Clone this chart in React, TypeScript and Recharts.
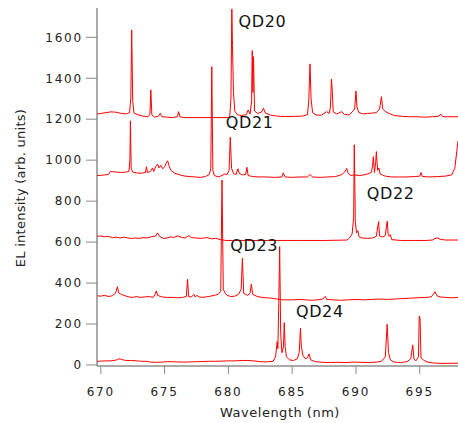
import React from 'react';
import { LineChart, Line, XAxis, YAxis, ReferenceDot } from 'recharts';

// wavelength (nm), intensity (arb. units) pairs, offsets included
const QD20: [number, number][] = [
  [669.7, 1225], [670.0, 1228], [670.4, 1232], [670.8, 1236], [671.2, 1234], [671.6, 1228], [672.0, 1226],
  [672.25, 1232], [672.35, 1300], [672.42, 1636], [672.5, 1290], [672.6, 1230], [672.9, 1222], [673.3, 1215],
  [673.7, 1212], [673.85, 1225], [673.92, 1343], [674.0, 1222], [674.2, 1210], [674.5, 1214], [674.65, 1228],
  [674.8, 1212], [675.2, 1210], [675.6, 1208], [676.0, 1212], [676.1, 1237], [676.2, 1212], [676.5, 1208],
  [680.1, 1208], [680.2, 1300], [680.27, 1738], [680.32, 1560], [680.4, 1330], [680.5, 1240], [680.7, 1222],
  [681.0, 1218], [681.4, 1222], [681.55, 1245], [681.7, 1225], [681.82, 1290], [681.87, 1535], [681.92, 1330],
  [681.97, 1505], [682.05, 1240], [682.3, 1228], [682.6, 1235], [682.75, 1253], [682.9, 1230], [683.3, 1220],
  [683.8, 1215], [684.5, 1213], [685.2, 1214], [685.8, 1215], [686.2, 1222], [686.3, 1290], [686.4, 1470],
  [686.48, 1300], [686.6, 1232], [686.9, 1220], [687.3, 1220], [687.7, 1237], [687.9, 1228], [688.0, 1260],
  [688.08, 1396], [688.14, 1340], [688.22, 1235], [688.5, 1226], [688.9, 1237], [689.1, 1222], [689.5, 1222],
  [689.9, 1250], [690.0, 1338], [690.08, 1260], [690.2, 1235], [690.5, 1226], [690.9, 1228], [691.3, 1230],
  [691.6, 1232], [691.85, 1250], [692.0, 1310], [692.1, 1250], [692.3, 1238], [692.6, 1228], [693.0, 1218],
  [693.6, 1214], [694.2, 1212], [694.8, 1212], [695.4, 1210], [696.0, 1212], [696.5, 1215], [696.65, 1225],
  [696.8, 1212], [697.3, 1212], [698.0, 1212],
];

const QD21: [number, number][] = [
  [669.7, 925], [670.0, 926], [670.3, 928], [670.6, 930], [670.75, 945], [670.9, 944], [671.2, 942],
  [671.6, 940], [672.0, 942], [672.2, 945], [672.28, 1000], [672.32, 1192], [672.38, 960], [672.5, 942],
  [672.8, 938], [673.2, 936], [673.5, 940], [673.58, 968], [673.65, 940], [673.9, 945], [674.05, 962],
  [674.15, 945], [674.3, 968], [674.45, 981], [674.55, 962], [674.7, 975], [674.85, 958], [675.0, 968],
  [675.12, 985], [675.24, 997], [675.35, 972], [675.5, 950], [675.8, 936], [676.2, 928], [676.6, 922],
  [677.0, 920], [677.4, 918], [677.8, 916], [678.2, 920], [678.5, 930], [678.62, 960], [678.7, 1456],
  [678.78, 950], [678.9, 925], [679.2, 918], [679.5, 925], [679.7, 932], [679.9, 930], [680.05, 950],
  [680.15, 1112], [680.25, 960], [680.4, 935], [680.6, 930], [680.75, 958], [680.85, 935], [681.1, 928],
  [681.35, 930], [681.45, 965], [681.55, 925], [681.9, 920], [682.4, 918], [683.0, 918], [683.6, 916],
  [684.2, 918], [684.3, 938], [684.45, 918], [685.0, 916], [685.6, 918], [686.2, 918], [686.4, 930],
  [686.6, 918], [687.2, 916], [687.8, 918], [688.4, 920], [688.9, 930], [689.15, 945], [689.27, 960],
  [689.4, 935], [689.6, 925], [689.9, 928], [690.3, 925], [690.8, 930], [691.2, 940], [691.3, 970],
  [691.36, 1017], [691.45, 940], [691.55, 990], [691.6, 1042], [691.7, 950], [691.8, 962], [691.9, 932],
  [692.3, 922], [692.8, 918], [693.4, 918], [694.0, 918], [694.6, 920], [695.0, 922], [695.1, 940],
  [695.2, 920], [695.8, 918], [696.4, 920], [697.0, 922], [697.5, 928], [697.75, 960], [697.9, 1040],
  [698.0, 1094],
];

const QD22: [number, number][] = [
  [669.7, 628], [670.0, 630], [670.3, 626], [670.6, 628], [670.9, 622], [671.2, 624], [671.5, 620],
  [671.8, 624], [672.1, 620], [672.4, 618], [672.7, 620], [673.0, 618], [673.3, 622], [673.6, 620],
  [673.9, 625], [674.3, 630], [674.45, 645], [674.6, 628], [674.9, 618], [675.2, 620], [675.5, 626],
  [675.7, 622], [676.0, 630], [676.3, 624], [676.6, 620], [676.9, 632], [677.1, 622], [677.5, 620],
  [677.9, 618], [678.3, 622], [678.7, 616], [679.0, 618], [679.4, 612], [679.8, 608], [681.5, 608],
  [683.5, 608], [685.5, 608], [687.5, 608], [689.3, 610], [689.5, 620], [689.7, 640], [689.82, 720],
  [689.87, 1075], [689.95, 700], [690.05, 645], [690.15, 655], [690.25, 625], [690.5, 620], [690.9, 618],
  [691.3, 620], [691.6, 628], [691.72, 680], [691.78, 700], [691.85, 630], [692.1, 625], [692.3, 632],
  [692.42, 690], [692.46, 703], [692.52, 640], [692.6, 628], [692.7, 636], [692.8, 612], [693.5, 608],
  [694.5, 608], [695.5, 608], [696.0, 610], [696.2, 618], [696.4, 620], [696.6, 614], [697.0, 610],
  [698.0, 610],
];

const QD23: [number, number][] = [
  [669.7, 338], [670.0, 336], [670.3, 340], [670.6, 334], [670.9, 338], [671.15, 350], [671.3, 382],
  [671.4, 352], [671.6, 345], [671.9, 338], [672.2, 332], [672.5, 330], [672.8, 334], [673.1, 330],
  [673.4, 332], [673.8, 334], [674.1, 330], [674.25, 345], [674.35, 362], [674.45, 340], [674.8, 332],
  [675.2, 330], [675.6, 330], [676.0, 328], [676.4, 330], [676.7, 334], [676.8, 418], [676.88, 334],
  [677.1, 332], [677.3, 345], [677.4, 332], [677.55, 340], [677.7, 332], [678.0, 330], [678.3, 333],
  [678.6, 336], [678.9, 340], [679.2, 345], [679.4, 360], [679.5, 903], [679.6, 370], [679.75, 350],
  [679.9, 340], [680.2, 334], [680.5, 336], [680.8, 345], [681.0, 370], [681.1, 521], [681.2, 350],
  [681.5, 340], [681.7, 350], [681.8, 395], [681.9, 345], [682.2, 336], [682.6, 330], [683.0, 328],
  [683.4, 326], [683.8, 322], [684.3, 318], [685.0, 318], [685.6, 320], [686.0, 318], [686.5, 316],
  [687.0, 318], [687.4, 322], [687.6, 335], [687.7, 320], [688.2, 318], [688.8, 316], [689.4, 318],
  [690.0, 320], [690.6, 318], [691.2, 320], [691.8, 322], [692.4, 320], [693.0, 322], [693.6, 324],
  [694.2, 326], [694.8, 328], [695.4, 330], [695.9, 332], [696.05, 345], [696.2, 358], [696.35, 338],
  [696.6, 332], [697.0, 330], [697.5, 328], [698.0, 330],
];

const QD24: [number, number][] = [
  [669.7, 18], [670.0, 19], [670.4, 20], [670.8, 20], [671.2, 24], [671.4, 30], [671.6, 28], [671.8, 24],
  [672.0, 22], [672.4, 22], [672.8, 20], [673.2, 18], [673.6, 18], [673.9, 14], [674.3, 13], [674.8, 14],
  [675.2, 16], [675.6, 16], [676.0, 15], [676.5, 14], [677.0, 15], [677.5, 16], [678.0, 17], [678.5, 18],
  [679.0, 18], [679.5, 19], [680.0, 20], [680.5, 20], [681.0, 22], [681.5, 22], [682.0, 20], [682.5, 16],
  [683.0, 15], [683.5, 18], [683.7, 40], [683.82, 114], [683.88, 80], [683.95, 300], [684.02, 578],
  [684.1, 150], [684.2, 60], [684.32, 90], [684.38, 207], [684.45, 90], [684.55, 40], [684.8, 25],
  [685.1, 22], [685.4, 30], [685.55, 60], [685.65, 179], [685.72, 90], [685.85, 45], [686.05, 30],
  [686.2, 35], [686.32, 54], [686.45, 25], [686.8, 16], [687.4, 13], [688.0, 12], [688.6, 13], [689.2, 12],
  [689.8, 14], [690.4, 13], [691.0, 12], [691.6, 14], [692.0, 18], [692.3, 40], [692.45, 199], [692.55, 60],
  [692.7, 25], [693.0, 14], [693.5, 12], [694.0, 16], [694.3, 30], [694.45, 98], [694.55, 30], [694.7, 20],
  [694.9, 40], [694.96, 239], [695.02, 230], [695.1, 35], [695.3, 24], [695.5, 16], [696.0, 10], [696.6, 8],
  [697.2, 8], [698.0, 9],
];

const SPECTRA = [QD20, QD21, QD22, QD23, QD24];
const NAMES = ['QD20', 'QD21', 'QD22', 'QD23', 'QD24'];
// where each name sits (data coords: left edge of text, vertical middle)
const LABEL_X = [680.8, 679.8, 690.85, 680.15, 685.3];
const LABEL_Y = [1677, 1182, 837, 581, 261];

const X_TICKS = [670, 675, 680, 685, 690, 695];
const Y_TICKS = [0, 200, 400, 600, 800, 1000, 1200, 1400, 1600];

const FONT = 'DejaVu Sans, sans-serif';
const tickStyle = { fill: '#222', fontSize: 12, fontFamily: FONT, letterSpacing: 1.8 };

const toPts = (arr: [number, number][]) => arr.map(([x, y]) => ({ x, y }));

export default function App() {
  return (
    <div style={{ position: 'absolute', left: 0, top: 0, background: '#fff' }}>
      <LineChart width={458} height={423} margin={{ top: 8, right: 0, bottom: 0, left: 0 }}>
        <XAxis
          dataKey="x"
          type="number"
          domain={[669.7, 698]}
          allowDataOverflow
          ticks={X_TICKS}
          height={57}
          tickSize={8}
          tickMargin={13}
          tick={tickStyle}
          axisLine={{ stroke: '#555' }}
          tickLine={{ stroke: '#888' }}
          label={{
            content: () => (
              <text x={280} y={412} textAnchor="middle" dominantBaseline="central"
                fontFamily={FONT} fontSize={13} letterSpacing={0.5} fill="#222">
                Wavelength (nm)
              </text>
            ),
          }}
        />
        <YAxis
          dataKey="y"
          type="number"
          domain={[-5, 1743]}
          allowDataOverflow
          ticks={Y_TICKS}
          width={97}
          tickSize={11}
          tickMargin={3}
          tick={tickStyle}
          axisLine={{ stroke: '#555' }}
          tickLine={{ stroke: '#888' }}
          label={{
            content: () => (
              <text x={20} y={188} transform="rotate(-90 20 188)" textAnchor="middle"
                dominantBaseline="central" fontFamily={FONT} fontSize={13} letterSpacing={0.25} fill="#222">
                EL intensity (arb. units)
              </text>
            ),
          }}
        />
        {SPECTRA.map((s, i) => (
          <Line
            key={NAMES[i]}
            data={toPts(s)}
            dataKey="y"
            type="linear"
            stroke="#ff0000"
            strokeWidth={1}
            dot={false}
            activeDot={false}
            isAnimationActive={false}
          />
        ))}
        {NAMES.map((n, i) => (
          <ReferenceDot
            key={n}
            x={LABEL_X[i]}
            y={LABEL_Y[i]}
            r={0}
            shape={(p: any) => (
              <text x={p.cx} y={p.cy} dominantBaseline="central" fontFamily={FONT}
                fontSize={16} letterSpacing={0.6} fill="#111">
                {n}
              </text>
            )}
          />
        ))}
      </LineChart>
    </div>
  );
}
